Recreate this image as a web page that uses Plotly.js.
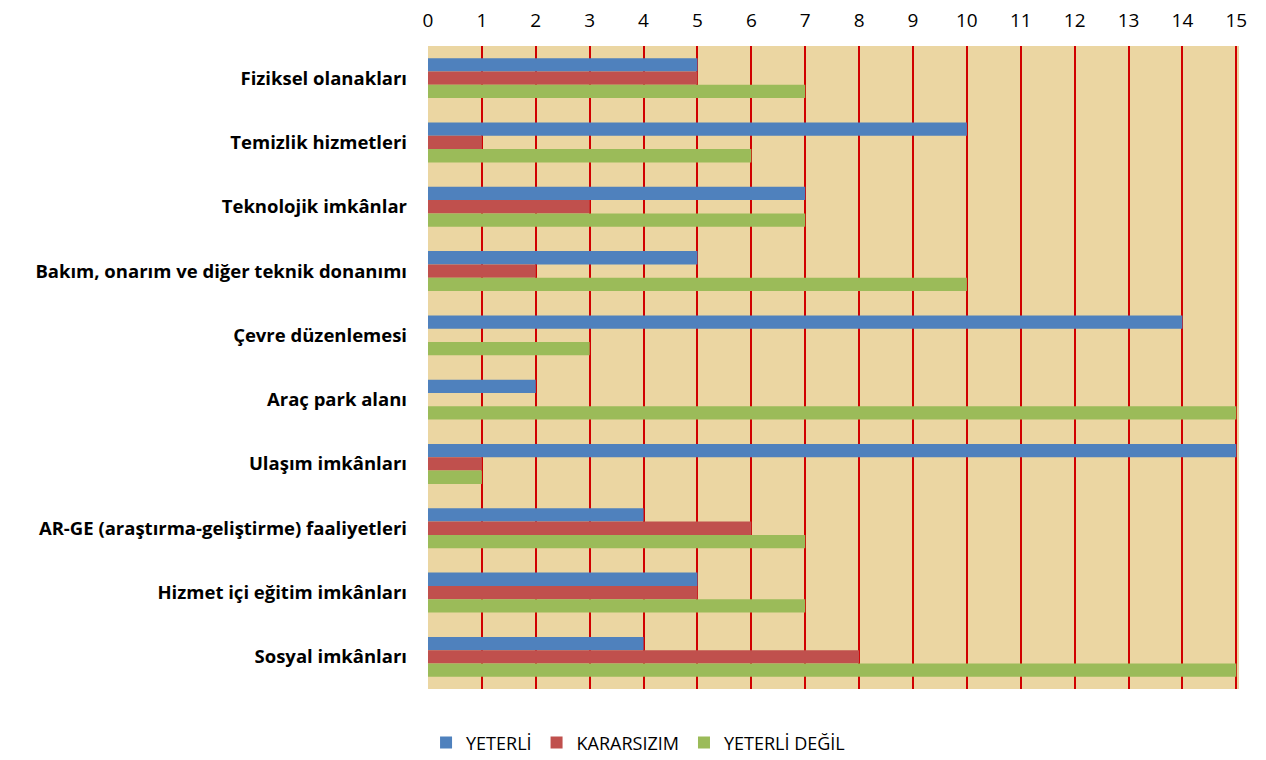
<!DOCTYPE html>
<html><head><meta charset="utf-8">
<script src="https://cdn.plot.ly/plotly-3.0.1.min.js"></script>
<style>html,body{margin:0;padding:0;background:#fff}</style>
</head><body>
<div id="chart" style="width:1266px;height:760px"></div>
<script>
const categories = ["Fiziksel olanakları","Temizlik hizmetleri","Teknolojik imkânlar","Bakım, onarım ve diğer teknik donanımı","Çevre düzenlemesi","Araç park alanı","Ulaşım imkânları","AR-GE (araştırma-geliştirme) faaliyetleri","Hizmet içi eğitim imkânları","Sosyal imkânları"];
const yeterli = [5,10,7,5,14,2,15,4,5,4];
const kararsizim = [5,1,3,2,0,0,1,6,5,8];
const yeterliDegil = [7,6,7,10,3,15,1,7,7,15];
const seriesNames = ["YETERLİ","KARARSIZIM","YETERLİ DEĞİL"];
const tickVals = [0,1,2,3,4,5,6,7,8,9,10,11,12,13,14,15];

const colors = ["#4F81BD","#C0504D","#9BBB59"];
const series = [yeterli, kararsizim, yeterliDegil];
const data = series.map((vals,i)=>({
  type:'bar', orientation:'h', name:seriesNames[i],
  x: vals, y: categories,
  marker:{color:colors[i], line:{width:0}},
  hoverinfo:'x+y'
}));
const layout = {
  width:1266, height:760,
  margin:{l:428, r:27, t:46, b:71, autoexpand:false},
  paper_bgcolor:'#ffffff', plot_bgcolor:'#EBD6A2',
  font:{family:'"Open Sans", "Noto Sans", sans-serif', color:'#000'},
  barmode:'group', bargap:0.38, bargroupgap:0,
  xaxis:{side:'top', range:[0,15.05], tickvals:tickVals, showgrid:true, gridcolor:'#D00000', gridwidth:2,
         zeroline:false, showline:false, ticks:'', tickfont:{size:19}, ticklabelstandoff:14, tickangle:0, fixedrange:true},
  yaxis:{autorange:'reversed', type:'category', showgrid:false, zeroline:false, showline:false, ticks:'',
         tickfont:{size:18.5, weight:'bold'}, ticklabelstandoff:20, fixedrange:true},
  legend:{orientation:'h', x:0.259, xanchor:'center', y:-0.055, yanchor:'top', font:{size:18}, traceorder:'normal'},
  showlegend:true
};
Plotly.newPlot('chart', data, layout, {displayModeBar:false, staticPlot:true});
</script>
</body></html>
